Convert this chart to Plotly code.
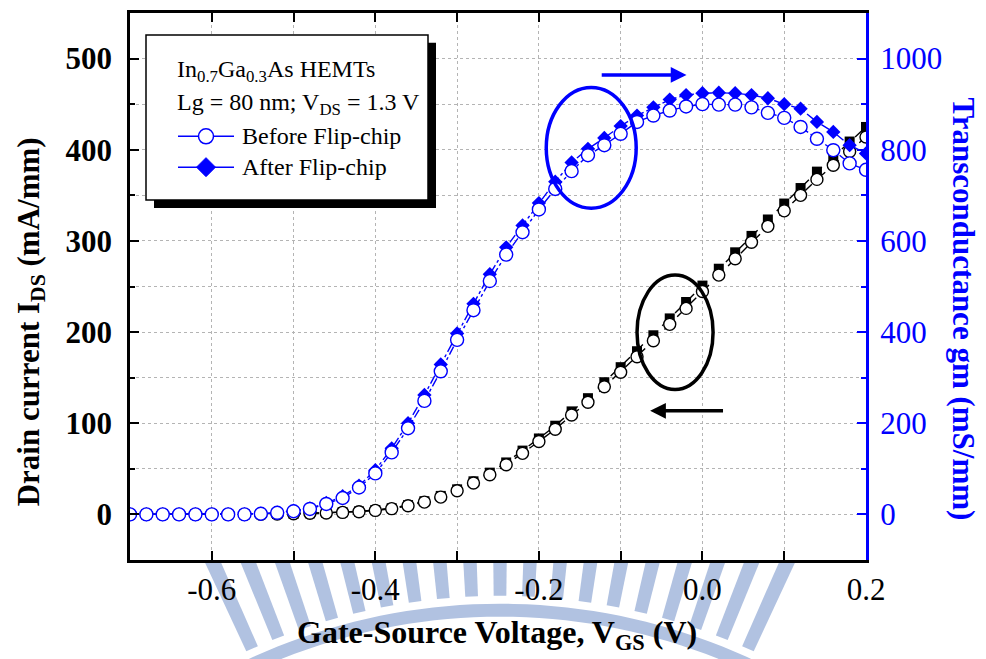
import math
import plotly.graph_objects as go

# ---------------- data ----------------
vgs = [-0.70, -0.68, -0.66, -0.64, -0.62, -0.60, -0.58, -0.56, -0.54, -0.52,
       -0.50, -0.48, -0.46, -0.44, -0.42, -0.40, -0.38, -0.36, -0.34, -0.32,
       -0.30, -0.28, -0.26, -0.24, -0.22, -0.20, -0.18, -0.16, -0.14, -0.12,
       -0.10, -0.08, -0.06, -0.04, -0.02, 0.00, 0.02, 0.04, 0.06, 0.08,
       0.10, 0.12, 0.14, 0.16, 0.18, 0.20]

ids_before = [0, 0, 0, 0, 0, 0, 0, 0, 0.3, 0.5,
              0.8, 1.2, 1.6, 2.2, 3.0, 4.4, 6.3, 9.5, 13.5, 19,
              26, 34.5, 43.5, 54.5, 67, 80, 93.5, 109, 123, 140,
              156, 173, 190.5, 208.5, 226, 244.5, 262.5, 280.5, 298.5, 316,
              333, 350, 367.5, 383, 398, 414]

ids_after = [0, 0, 0, 0, 0, 0, 0, 0, 0.3, 0.5,
             0.8, 1.2, 1.7, 2.4, 3.3, 4.8, 6.8, 10.2, 14.5, 20.3,
             27.5, 36.3, 45.8, 57, 70, 83.3, 97.3, 113, 127.5, 145,
             161.5, 179, 196.5, 215, 233, 251, 269.5, 287.5, 305.5, 323.5,
             341, 358, 376, 392, 409, 425]

gm_before = [0, 0, 0, 0, 0, 0, 0, 0, 1.5, 3.5,
             7, 12, 23, 36, 59, 90, 136, 189, 249, 314,
             383, 448, 512, 570, 619, 669, 714, 753, 788, 810,
             835, 861, 875, 886, 895, 900, 899, 899, 893, 881,
             870, 850, 824, 799, 770, 756]

gm_after = [0, 0, 0, 0, 0, 0, 0, 0, 1.5, 4,
            8, 13, 25, 40, 63, 97, 145, 200, 262, 329,
            397, 462, 527, 586, 634, 683, 730, 772, 802, 826,
            852, 875, 893, 910, 920, 924, 925, 924, 920, 913,
            900, 890, 861, 839, 810, 792]

x_tickvals = [-0.6, -0.4, -0.2, 0.0, 0.2]
x_ticktext = ["-0.6", "-0.4", "-0.2", "0.0", "0.2"]
left_tickvals = [0, 100, 200, 300, 400, 500]
right_tickvals = [0, 200, 400, 600, 800, 1000]

FONT = "Liberation Serif, Times New Roman, serif"
BLUE = "#0000ff"
WM = "#b1c2e1"

fig = go.Figure()

# drain current (left axis)
fig.add_trace(go.Scatter(
    x=vgs, y=ids_after, mode="lines+markers", yaxis="y", showlegend=False,
    name="I_DS after",
    line=dict(color="black", width=1.4, dash="dash"),
    marker=dict(symbol="square", size=10, color="black")))
fig.add_trace(go.Scatter(
    x=vgs, y=ids_before, mode="lines+markers", yaxis="y", showlegend=False,
    name="I_DS before",
    line=dict(color="black", width=1.4, dash="dash"),
    marker=dict(symbol="circle", size=12, color="white",
                line=dict(color="black", width=1.4))))

# transconductance (right axis)
fig.add_trace(go.Scatter(
    x=vgs, y=gm_after, mode="lines+markers", yaxis="y2", name="After Flip-chip",
    showlegend=False,
    line=dict(color=BLUE, width=1.4, dash="dashdot"),
    marker=dict(symbol="diamond", size=11, color=BLUE)))
fig.add_trace(go.Scatter(
    x=vgs, y=gm_before, mode="lines+markers", yaxis="y2", name="Before Flip-chip",
    showlegend=False,
    line=dict(color=BLUE, width=1.4, dash="dashdot"),
    marker=dict(symbol="circle", size=13, color="white",
                line=dict(color=BLUE, width=1.4))))


# pixel (screenshot) -> paper coordinates; plot area spans x 130..866, y 10..560
def px_x(p):
    return (p - 130) / 736.0


def px_y(p):
    return (560 - p) / 550.0


shapes = []

# ---- faint watermark (decorative logo behind the x-axis title) ----
cx, cy = 500.0, 1200.0
for k in range(-9, 10):
    th = k * 0.047
    hw = 0.0105
    pts = []
    r_in = 604.0
    for a in (th - hw, th + hw):
        pts.append((cx + r_in * math.sin(a), cy - r_in * math.cos(a)))
    for a in (th + hw, th - hw):
        r_out = (cy - 563.0) / math.cos(a)
        pts.append((cx + r_out * math.sin(a), cy - r_out * math.cos(a)))
    path = "M " + " L ".join(f"{px_x(px):.5f},{px_y(py):.5f}" for px, py in pts) + " Z"
    shapes.append(dict(type="path", xref="paper", yref="paper", path=path,
                       fillcolor=WM, line=dict(width=0), layer="below"))
# arc band
band = []
n = 40
for i in range(n + 1):
    a = -0.45 + 0.9 * i / n
    band.append((cx + 596 * math.sin(a), cy - 596 * math.cos(a)))
for i in range(n + 1):
    a = 0.45 - 0.9 * i / n
    band.append((cx + 583 * math.sin(a), cy - 583 * math.cos(a)))
shapes.append(dict(type="path", xref="paper", yref="paper",
                   path="M " + " L ".join(f"{px_x(px):.5f},{px_y(py):.5f}" for px, py in band) + " Z",
                   fillcolor=WM, line=dict(width=0), layer="below"))

# ---- legend box with shadow ----
shapes += [
    dict(type="rect", xref="paper", yref="paper", x0=px_x(154), x1=px_x(436),
         y0=px_y(206), y1=px_y(40), fillcolor="black", line=dict(width=0), layer="above"),
    dict(type="rect", xref="paper", yref="paper", x0=px_x(146), x1=px_x(428),
         y0=px_y(198), y1=px_y(32), fillcolor="white",
         line=dict(color="black", width=1.5), layer="above"),
    # legend symbols
    dict(type="line", xref="paper", yref="paper", x0=px_x(178), x1=px_x(234),
         y0=px_y(134), y1=px_y(134), line=dict(color=BLUE, width=1.5), layer="above"),
    dict(type="circle", xref="paper", yref="paper", xsizemode="pixel", ysizemode="pixel",
         xanchor=px_x(206), yanchor=px_y(134), x0=-7.5, x1=7.5, y0=-7.5, y1=7.5,
         fillcolor="white", line=dict(color=BLUE, width=1.5), layer="above"),
    dict(type="line", xref="paper", yref="paper", x0=px_x(178), x1=px_x(234),
         y0=px_y(165), y1=px_y(165), line=dict(color=BLUE, width=1.5), layer="above"),
    dict(type="path", xref="paper", yref="paper", xsizemode="pixel", ysizemode="pixel",
         xanchor=px_x(206), yanchor=px_y(165), path="M 0,9.5 L 9.5,0 L 0,-9.5 L -9.5,0 Z",
         fillcolor=BLUE, line=dict(color=BLUE, width=1), layer="above"),
    # ellipses
    dict(type="circle", xref="x", yref="y", x0=-0.191, x1=-0.081, y0=335.8, y1=468.4,
         line=dict(color=BLUE, width=3.5)),
    dict(type="circle", xref="x", yref="y", x0=-0.080, x1=0.013, y0=136.9, y1=262.5,
         line=dict(color="black", width=3.5)),
]

annotations = [
    dict(x=-0.064, y=113.6, ax=0.027, ay=113.6, xref="x", yref="y", axref="x", ayref="y",
         showarrow=True, arrowhead=2, arrowsize=0.9, arrowwidth=3.5, arrowcolor="black", text=""),
    dict(x=-0.0195, y=482, ax=-0.125, ay=482, xref="x", yref="y", axref="x", ayref="y",
         showarrow=True, arrowhead=2, arrowsize=0.9, arrowwidth=3.5, arrowcolor=BLUE, text=""),
    dict(text="<b>Transconductance gm (mS/mm)</b>", textangle=90, xref="paper", yref="paper",
         x=px_x(964), y=px_y(307), xanchor="center", yanchor="middle", showarrow=False,
         font=dict(family=FONT, size=31, color=BLUE)),
    dict(text="<b>Drain current I<sub>DS</sub> (mA/mm)</b>", textangle=-90, xref="paper", yref="paper",
         x=px_x(31), y=px_y(321), xanchor="center", yanchor="middle", showarrow=False,
         font=dict(family=FONT, size=31, color="black")),
    dict(text="<b>Gate-Source Voltage, V<sub>GS</sub> (V)</b>", xref="paper", yref="paper",
         x=px_x(497), y=px_y(635), xanchor="center", yanchor="middle", showarrow=False,
         font=dict(family=FONT, size=32, color="black")),
    # legend texts
    dict(text="In<sub>0.7</sub>Ga<sub>0.3</sub>As HEMTs", xref="paper", yref="paper",
         x=px_x(175), y=px_y(68), xanchor="left", yanchor="middle", showarrow=False,
         font=dict(family=FONT, size=24, color="black")),
    dict(text="Lg = 80 nm; V<sub>DS</sub> = 1.3 V", xref="paper", yref="paper",
         x=px_x(175), y=px_y(102), xanchor="left", yanchor="middle", showarrow=False,
         font=dict(family=FONT, size=24, color="black")),
    dict(text="Before Flip-chip", xref="paper", yref="paper",
         x=px_x(240), y=px_y(134), xanchor="left", yanchor="middle", showarrow=False,
         font=dict(family=FONT, size=24, color="black")),
    dict(text="After Flip-chip", xref="paper", yref="paper",
         x=px_x(240), y=px_y(165), xanchor="left", yanchor="middle", showarrow=False,
         font=dict(family=FONT, size=24, color="black")),
]

fig.update_layout(
    width=978, height=651,
    margin=dict(l=122, r=120, t=2, b=99),
    paper_bgcolor="white", plot_bgcolor="white",
    font=dict(family=FONT, size=22, color="black"),
    showlegend=False,
    shapes=shapes, annotations=annotations,
    xaxis=dict(range=[-0.7, 0.2], tickmode="array", tickvals=x_tickvals, ticktext=x_ticktext,
               ticks="inside", ticklen=9, tickwidth=2, tickcolor="black",
               showline=True, linecolor="black", linewidth=2.5, mirror="ticks",
               showgrid=True, gridcolor="#b4b4b4", griddash="dot", gridwidth=1,
               zeroline=False,
               minor=dict(dtick=0.1, tick0=0, ticks="inside", ticklen=9, tickwidth=2,
                          tickcolor="black", showgrid=True, gridcolor="#b4b4b4", griddash="dot"),
               tickfont=dict(family=FONT, size=31, color="black"), ticklabelstandoff=0),
    yaxis=dict(range=[-50, 550], tickmode="array", tickvals=left_tickvals,
               ticks="inside", ticklen=9, tickwidth=2, tickcolor="black",
               showline=True, linecolor="black", linewidth=2.5,
               showgrid=True, gridcolor="#b4b4b4", griddash="dot", gridwidth=1,
               zeroline=False,
               minor=dict(dtick=50, tick0=0, ticks="inside", ticklen=5, tickwidth=2,
                          tickcolor="black", showgrid=True, gridcolor="#b4b4b4", griddash="dot"),
               tickfont=dict(family=FONT, size=31, color="black", weight="bold"),
               ticklabelstandoff=9),
    yaxis2=dict(range=[-100, 1100], overlaying="y", side="right", tickmode="array",
                tickvals=right_tickvals,
                ticks="inside", ticklen=9, tickwidth=2, tickcolor=BLUE,
                showline=True, linecolor=BLUE, linewidth=3, showgrid=False, zeroline=False,
                minor=dict(dtick=100, tick0=0, ticks="inside", ticklen=5, tickwidth=2,
                           tickcolor=BLUE, showgrid=False),
                tickfont=dict(family=FONT, size=31, color=BLUE), ticklabelstandoff=5),
)

fig.write_html("out.html")
